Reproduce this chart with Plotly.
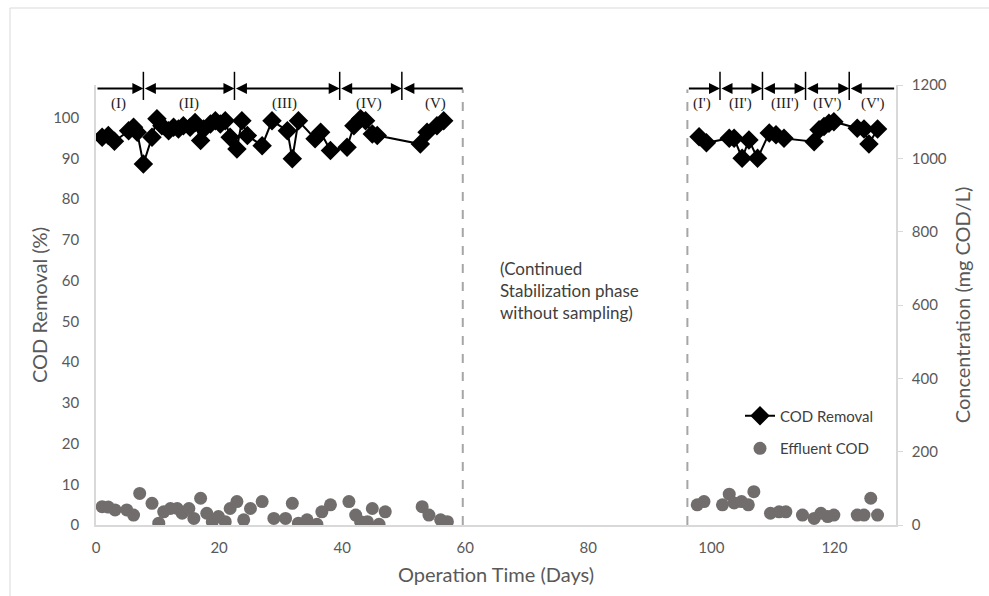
import plotly.graph_objects as go

# ---------------- data ----------------
removal_days = [1.0, 2.0, 3.0, 5.3, 6.1, 6.7, 7.7, 9.1, 9.9, 10.7,
                11.8, 12.6, 13.4, 14.2, 15.3, 16.1, 17.0, 17.5, 18.6, 19.4,
                20.2, 21.0, 21.8, 22.9, 23.7, 24.6, 27.0, 28.6, 31.1, 31.9,
                32.9, 35.6, 36.5, 38.1, 40.8, 41.9, 43.0, 43.8, 44.9, 45.7,
                52.7, 53.8, 55.4, 56.5,
                None,
                98.0, 99.2, 102.9, 103.7, 105.0, 106.1, 107.5, 109.4, 110.5, 111.8,
                116.7, 117.5, 118.3, 119.1, 119.9, 123.7, 124.8, 125.6, 127.0]
removal_vals = [95.2, 95.6, 94.2, 96.8, 97.6, 96.4, 88.6, 95.2, 99.7, 98.0,
                96.8, 97.6, 97.2, 98.0, 97.6, 98.8, 94.4, 97.2, 98.4, 99.2,
                98.4, 99.2, 95.2, 92.3, 99.2, 95.6, 93.1, 99.2, 96.8, 89.9,
                99.2, 94.8, 96.4, 91.9, 92.7, 98.0, 99.7, 99.2, 96.0, 95.6,
                93.5, 96.4, 98.0, 99.2,
                None,
                95.3, 93.8, 94.9, 94.9, 90.0, 94.5, 90.0, 96.2, 95.8, 94.9,
                94.1, 97.0, 97.8, 98.6, 99.0, 97.4, 97.2, 93.5, 97.2]

eff_days = [1.0, 2.0, 3.1, 5.0, 6.1, 7.1, 9.1, 10.2, 11.0, 12.1, 13.2, 14.0,
            15.1, 15.9, 17.0, 18.0, 18.9, 19.9, 21.0, 21.8, 22.9, 24.0, 25.1, 27.0,
            28.9, 30.8, 31.9, 32.9, 34.3, 35.9, 36.7, 38.1, 41.1, 42.2, 43.0, 44.1,
            44.9, 46.0, 47.0, 53.0, 54.1, 56.0, 57.1,
            97.7, 98.8, 101.8, 102.9, 103.7, 104.9, 106.0, 106.9, 109.6, 111.0, 112.1,
            114.8, 116.7, 117.8, 118.9, 119.9, 123.7, 124.8, 125.9, 127.0]
eff_vals = [50, 49, 41, 41, 27, 86, 59, 5, 36, 45, 45, 32,
            45, 18, 73, 32, 9, 23, 9, 45, 64, 14, 45, 64,
            18, 18, 59, 5, 14, 2, 36, 55, 64, 27, 9, 9,
            45, 2, 36, 50, 27, 14, 9,
            55, 64, 55, 84, 60, 64, 55, 91, 32, 36, 36,
            27, 18, 32, 23, 27, 27, 27, 73, 27]

phase_bounds_a = [0, 7.7, 22.5, 39.6, 49.7, 59.6]
phase_labels_a = ["(I)", "(II)", "(III)", "(IV)", "(V)"]
phase_label_x_a = [3.7, 15.1, 30.7, 44.4, 55.2]
phase_bounds_b = [96.1, 101.4, 108.3, 115.3, 122.4, 129.7]
phase_labels_b = ["(I')", "(II')", "(III')", "(IV')", "(V')"]
phase_label_x_b = [98.5, 104.8, 111.9, 118.9, 126.2]
gap_lines = [59.6, 96.1]

x_ticks = [0, 20, 40, 60, 80, 100, 120]
y_ticks = [0, 10, 20, 30, 40, 50, 60, 70, 80, 90, 100]
y2_ticks = [0, 200, 400, 600, 800, 1000, 1200]

FONT = "Lato"
GRAY = "#595959"
AXC = "#d9d9d9"

fig = go.Figure()
fig.add_trace(go.Scatter(
    x=removal_days, y=removal_vals, name="COD Removal", mode="lines+markers",
    line=dict(color="black", width=2), connectgaps=False,
    marker=dict(symbol="diamond", size=15, color="black"),
    legendgroup="a", yaxis="y"))
fig.add_trace(go.Scatter(
    x=eff_days, y=eff_vals, name="Effluent COD", mode="markers",
    marker=dict(symbol="circle", size=13, color="#726d6d"),
    legendgroup="b", yaxis="y2"))

shapes = []
annotations = []
# dashed vertical separators
for g in gap_lines:
    shapes.append(dict(type="line", xref="x", yref="paper", x0=g, x1=g, y0=0, y1=0.99,
                       line=dict(color="#a6a6a6", width=2, dash="dash")))

LINE_Y = 0.992
LABEL_Y = 0.958


def phase_set(bounds, labels, lx):
    n = len(bounds) - 1
    for i in range(n):
        side = "end+start"
        if i == 0:
            side = "end"
        elif i == n - 1:
            side = "start"
        annotations.append(dict(
            x=bounds[i + 1], y=LINE_Y, xref="x", yref="paper",
            ax=bounds[i], ay=0, axref="x", ayref="pixel",
            text="", showarrow=True, arrowhead=2, startarrowhead=2,
            arrowside=side, arrowsize=1, startarrowsize=1, arrowwidth=2.2,
            arrowcolor="black", standoff=0, startstandoff=0))
    for b in bounds[1:-1]:
        shapes.append(dict(type="line", xref="x", yref="paper", x0=b, x1=b,
                           y0=0.966, y1=1.03, line=dict(color="black", width=1.5)))
    for t, x in zip(labels, lx):
        annotations.append(dict(x=x, y=LABEL_Y, xref="x", yref="paper", text=t,
                                showarrow=False, yanchor="middle",
                                font=dict(family="Liberation Serif", size=15, color="#222222")))


phase_set(phase_bounds_a, phase_labels_a, phase_label_x_a)
phase_set(phase_bounds_b, phase_labels_b, phase_label_x_b)

annotations.append(dict(
    x=0.503, y=0.534, xref="paper", yref="paper", xanchor="left", yanchor="middle",
    align="left", showarrow=False,
    text="(Continued<br>Stabilization phase<br>without sampling)",
    font=dict(family=FONT, size=17, color="#404040")))

# outer frame lines (top and left)
shapes.append(dict(type="line", xref="paper", yref="paper", x0=-0.1075, x1=1.12,
                   y0=1.175, y1=1.175, line=dict(color=AXC, width=1)))
shapes.append(dict(type="line", xref="paper", yref="paper", x0=-0.1075, x1=-0.1075,
                   y0=-0.17, y1=1.175, line=dict(color=AXC, width=1)))

fig.update_layout(
    width=989, height=596,
    margin=dict(l=96, r=93, t=85, b=71),
    paper_bgcolor="white", plot_bgcolor="white",
    font=dict(family=FONT, color=GRAY),
    shapes=shapes, annotations=annotations,
    showlegend=True,
    legend=dict(x=0.805, y=0.285, xanchor="left", yanchor="top",
                font=dict(family=FONT, size=15, color="#404040"),
                tracegroupgap=10, bgcolor="rgba(0,0,0,0)"),
    xaxis=dict(range=[0, 130], tickvals=x_ticks, showgrid=False, zeroline=False,
               showline=True, linecolor=AXC, linewidth=1.5, ticks="",
               tickfont=dict(size=15, color=GRAY), ticklabelstandoff=8,
               title=dict(text="Operation Time (Days)", font=dict(size=20, color=GRAY), standoff=13)),
    yaxis=dict(range=[0, 108], tickvals=y_ticks, showgrid=False, zeroline=False,
               showline=True, linecolor=AXC, linewidth=1.5, ticks="",
               tickfont=dict(size=15, color=GRAY), ticklabelstandoff=12,
               title=dict(text="COD Removal (%)", font=dict(size=20, color=GRAY), standoff=0)),
    yaxis2=dict(range=[0, 1200], tickvals=y2_ticks, overlaying="y", side="right",
                showgrid=False, zeroline=False, showline=True, linecolor=AXC, linewidth=1.5,
                ticks="outside", ticklen=5, tickcolor=AXC,
                tickfont=dict(size=15, color=GRAY), ticklabelstandoff=6,
                title=dict(text="Concentration (mg COD/L)", font=dict(size=20, color=GRAY), standoff=10)),
)

fig.write_html("out.html", post_script="document.body.style.margin='0';",
               config={"displayModeBar": False})
